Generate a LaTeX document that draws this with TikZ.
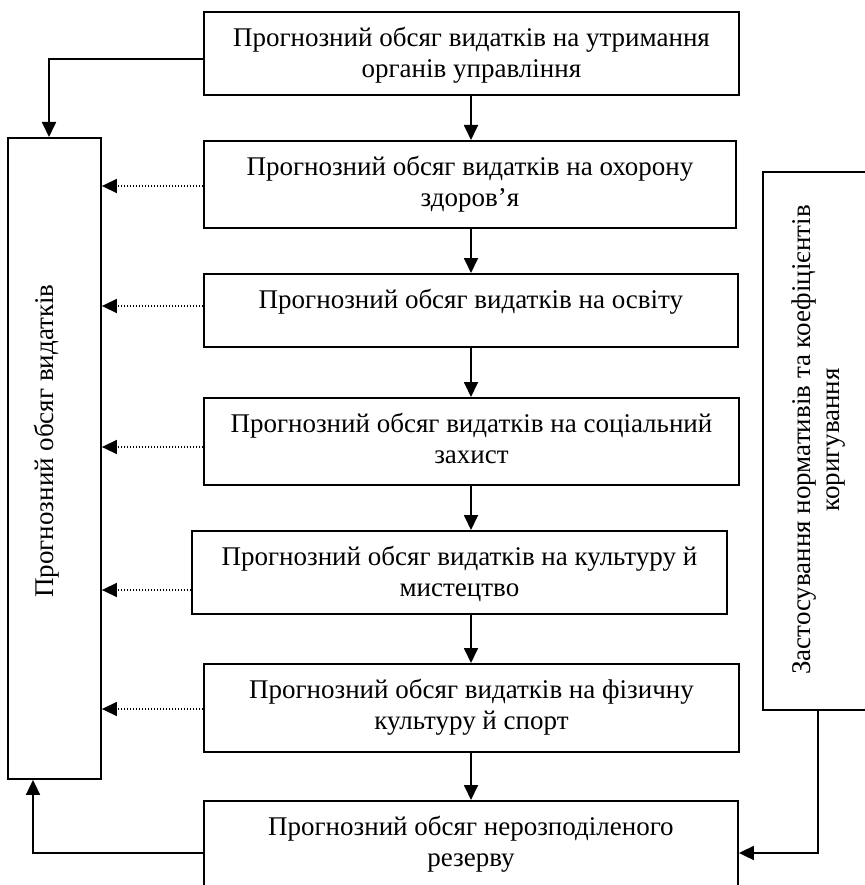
\documentclass[tikz,border=0pt]{standalone}
\usepackage{fontspec}
\setmainfont{Liberation Serif}
\usetikzlibrary{arrows.meta}
\begin{document}
\begin{tikzpicture}[x=1pt,y=-1pt,
  box/.style={draw, line width=1.9pt, inner sep=0pt, anchor=north west},
  txt/.style={anchor=north, inner sep=0pt, align=center, font=\fontsize{27}{31}\selectfont},
  vtxt/.style={rotate=90, inner sep=0pt, align=center, font=\fontsize{27}{29}\selectfont},
  arr/.style={line width=1.8pt, -{Triangle[length=15pt,width=14pt]}},
  dotarr/.style={line width=1.5pt, dash pattern=on 1.5pt off 1.5pt, -{Triangle[length=15pt,width=14pt]}}]
\useasboundingbox (0,0) rectangle (864,885);
% boxes
\node[box, minimum width=535pt, minimum height=83pt] (T)  at (203,11)  {};
\node[box, minimum width=532pt, minimum height=87pt] (B2) at (203,140) {};
\node[box, minimum width=534pt, minimum height=73pt] (B3) at (203,273) {};
\node[box, minimum width=535pt, minimum height=87pt] (B4) at (203,397) {};
\node[box, minimum width=535pt, minimum height=83pt] (B5) at (191,530) {};
\node[box, minimum width=535pt, minimum height=88pt] (B6) at (203,663) {};
\node[box, minimum width=534pt, minimum height=88pt] (B7) at (203,800) {};
\node[box, minimum width=93pt,  minimum height=641pt] (L) at (7,137)   {};
\node[box, minimum width=103pt, minimum height=538pt] (R) at (762,171) {};
% texts
\node[txt] (tT)  at ([yshift=-13.3pt]T.north)  {\strut Прогнозний обсяг видатків на утримання\\органів управління};
\node[txt] (tB2) at ([yshift=-13.3pt]B2.north) {\strut Прогнозний обсяг видатків на охорону\\здоров’я};
\node[txt] (tB3) at ([yshift=-13.3pt]B3.north) {\strut Прогнозний обсяг видатків на освіту};
\node[txt] (tB4) at ([yshift=-13.3pt]B4.north) {\strut Прогнозний обсяг видатків на соціальний\\захист};
\node[txt] (tB5) at ([yshift=-13.3pt]B5.north) {\strut Прогнозний обсяг видатків на культуру й\\мистецтво};
\node[txt] (tB6) at ([yshift=-13.3pt]B6.north) {\strut Прогнозний обсяг видатків на фізичну\\культуру й спорт};
\node[txt] (tB7) at ([yshift=-13.3pt]B7.north) {\strut Прогнозний обсяг нерозподіленого\\резерву};
\node[vtxt, anchor=base] (tL) at (53,441) {Прогнозний обсяг видатків};
\node[vtxt, anchor=center] (tR) at (819,440) {Застосування нормативів та коефіцієнтів\\коригування};
% vertical chain
\coordinate (cx) at (471,0);
\draw[arr] (T.south -| cx)  -- (B2.north -| cx);
\draw[arr] (B2.south -| cx) -- (B3.north -| cx);
\draw[arr] (B3.south -| cx) -- (B4.north -| cx);
\draw[arr] (B4.south -| cx) -- (B5.north -| cx);
\draw[arr] (B5.south -| cx) -- (B6.north -| cx);
\draw[arr] (B6.south -| cx) -- (B7.north -| cx);
% dotted arrows to left box
\draw[dotarr] (B2.west |- 0,186) -- (L.east |- 0,186);
\draw[dotarr] (B3.west |- 0,306) -- (L.east |- 0,306);
\draw[dotarr] (B4.west |- 0,447) -- (L.east |- 0,447);
\draw[dotarr] (B5.west |- 0,590) -- (L.east |- 0,590);
\draw[dotarr] (B6.west |- 0,709) -- (L.east |- 0,709);
% side connectors
\draw[arr] (T.west |- 0,59) -| (L.north -| 49,0);
\draw[arr] (B7.west |- 0,853) -| (L.south -| 33,0);
\draw[arr] (R.south -| 818,0) |- (B7.east |- 0,853);
\end{tikzpicture}
\end{document}
